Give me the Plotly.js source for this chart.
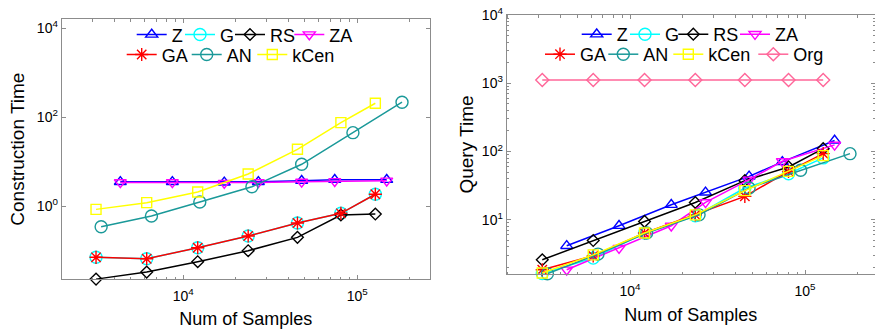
<!DOCTYPE html>
<html>
<head>
<meta charset="utf-8">
<script src="https://cdn.plot.ly/plotly-3.0.1.min.js"></script>
<style>
  html, body { margin: 0; padding: 0; background: #fff; }
  #chart { width: 875px; height: 330px; }
</style>
</head>
<body>
<div id="chart"></div>
<script>
// Sample counts used by the different methods
const samplesStd = [3150, 6160, 12100, 23600, 45300, 80500, 127000];
const samplesZ   = [4345, 8650, 17200, 27000, 47900, 74200, 147600];
const samplesAN  = [3370, 6560, 12440, 24800, 47900, 94400, 180800];

// Construction time
const buildZ    = [3.5, 3.5, 3.4, 3.5, 3.7, 3.9, 3.9];
const buildG    = [0.070, 0.065, 0.115, 0.211, 0.414, 0.685, 1.84];
const buildRS   = [0.0226, 0.0326, 0.0557, 0.0985, 0.197, 0.627, 0.66];
const buildZA   = [3.4, 3.4, 3.3, 3.4, 3.5, 3.6, 3.7];
const buildGA   = [0.070, 0.065, 0.115, 0.211, 0.414, 0.685, 1.84];
const buildAN   = [0.342, 0.595, 1.23, 2.72, 8.69, 44.8, 217];
const buildKCen = [0.84, 1.19, 2.07, 5.26, 18.9, 75.2, 206];

// Query time
const queryZ    = [4.15, 8.17, 16.6, 25.2, 43.2, 70.4, 145];
const queryG    = [1.63, 2.74, 6.4, 11.4, 29.2, 47.3, 80.5];
const queryRS   = [2.59, 4.96, 9.45, 17.9, 37.4, 59.4, 110];
const queryZA   = [1.85, 3.84, 8.17, 18, 38.6, 71.8, 125];
const queryGA   = [1.85, 2.96, 6.4, 11.8, 22, 51, 93];
const queryAN   = [1.62, 3.14, 6.38, 11.8, 29.2, 53, 93];
const queryKCen = [1.66, 3.06, 6.38, 11.8, 26.7, 51.2, 87];
const queryOrg  = [1112, 1112, 1112, 1112, 1112, 1112, 1112];

// Tick labels
const xTickVals = [1e4, 1e5];
const xTickText = ['10<sup>4</sup>', '10<sup>5</sup>'];
const yBuildTickVals = [1, 100, 10000];
const yBuildTickText = ['10<sup>0</sup>', '10<sup>2</sup>', '10<sup>4</sup>'];
const yQueryTickVals = [10, 100, 1000, 10000];
const yQueryTickText = ['10<sup>1</sup>', '10<sup>2</sup>', '10<sup>3</sup>', '10<sup>4</sup>'];

const W = 875, H = 330;
const FONT = 'Liberation Sans, Arial, Helvetica, sans-serif';

const STYLE = {
  Z:    { color: '#0000ff', symbol: 'triangle-up-open',   size: 10.5 },
  G:    { color: '#00ffff', symbol: 'circle-open',        size: 12 },
  RS:   { color: '#000000', symbol: 'diamond-open',       size: 9 },
  ZA:   { color: '#ff00ff', symbol: 'triangle-down-open', size: 10.5 },
  GA:   { color: '#ff0000', symbol: 'asterisk-open',      size: 11 },
  AN:   { color: '#1a9999', symbol: 'circle-open',        size: 12 },
  kCen: { color: '#ffff00', symbol: 'square-open',        size: 10 },
  Org:  { color: '#ff6699', symbol: 'diamond-open',       size: 10 }
};

function series(name, x, y, xa, ya, legend, lw) {
  const s = STYLE[name];
  const t = {
    type: 'scatter', mode: 'lines+markers', name: name,
    x: x, y: y, xaxis: xa, yaxis: ya, legend: legend,
    line: { color: s.color, width: 1.5 },
    marker: { symbol: s.symbol, size: s.size, color: s.color,
              line: { color: s.color, width: 1.4 } },
    cliponaxis: false
  };
  if (lw !== undefined) t.legendwidth = lw;
  return t;
}

const data = [
  series('Z',    samplesZ,   buildZ,    'x', 'y', 'legend', 3.3),
  series('G',    samplesStd, buildG,    'x', 'y', 'legend', 5),
  series('RS',   samplesStd, buildRS,   'x', 'y', 'legend', 14.3),
  series('ZA',   samplesZ,   buildZA,   'x', 'y', 'legend'),
  series('GA',   samplesStd, buildGA,   'x', 'y', 'legend2', 20),
  series('AN',   samplesAN,  buildAN,   'x', 'y', 'legend2', 20.6),
  series('kCen', samplesStd, buildKCen, 'x', 'y', 'legend2'),

  series('Z',    samplesZ,   queryZ,    'x2', 'y2', 'legend3', 3.3),
  series('G',    samplesStd, queryG,    'x2', 'y2', 'legend3', 3.3),
  series('RS',   samplesStd, queryRS,   'x2', 'y2', 'legend3', 16.7),
  series('ZA',   samplesZ,   queryZA,   'x2', 'y2', 'legend3'),
  series('GA',   samplesStd, queryGA,   'x2', 'y2', 'legend4', 18.3),
  series('AN',   samplesAN,  queryAN,   'x2', 'y2', 'legend4', 20),
  series('kCen', samplesStd, queryKCen, 'x2', 'y2', 'legend4', 40),
  series('Org',  samplesStd, queryOrg,  'x2', 'y2', 'legend4')
];

const GRAY = '#8c8c8c';
function axisBase(extra) {
  return Object.assign({
    type: 'log', showgrid: false, zeroline: false,
    linecolor: GRAY, linewidth: 1, mirror: 'ticks',
    ticks: 'inside', ticklen: 4, tickcolor: GRAY, tickwidth: 1,
    tickmode: 'array',
    tickfont: { family: FONT, size: 14, color: '#000' }
  }, extra);
}
const minorTicks = { dtick: 'D1', ticks: 'inside', ticklen: 2.5, tickcolor: GRAY, tickwidth: 1, showgrid: false };

function legendBox(xPx, yPx) {
  return {
    orientation: 'h', x: xPx / W, xanchor: 'left', y: 1 - yPx / H, yanchor: 'top',
    font: { family: FONT, size: 18, color: '#000' },
    bgcolor: 'rgba(0,0,0,0)', borderwidth: 0, itemwidth: 30
  };
}

const layout = {
  width: W, height: H,
  margin: { l: 0, r: 0, t: 0, b: 0 },
  paper_bgcolor: '#fff', plot_bgcolor: '#fff',
  font: { family: FONT, color: '#000' },
  showlegend: true,
  xaxis: axisBase({
    domain: [61.7 / W, 430 / W], range: [3.301, 5.418], anchor: 'y',
    tickvals: xTickVals, ticktext: xTickText, minor: minorTicks, ticklabelstandoff: 4,
    title: { text: 'Num of Samples', font: { family: FONT, size: 18 }, standoff: 9 }
  }),
  yaxis: axisBase({
    domain: [1 - 279.3 / H, 1 - 19 / H], range: [-1.65, 4.21], anchor: 'x',
    tickvals: yBuildTickVals, ticktext: yBuildTickText,
    title: { text: 'Construction Time', font: { family: FONT, size: 19 }, standoff: 6.5 }
  }),
  xaxis2: axisBase({
    domain: [506.7 / W, 1], range: [3.295, 5.40], anchor: 'y2',
    tickvals: xTickVals, ticktext: xTickText, minor: minorTicks, ticklabelstandoff: 4,
    title: { text: 'Num of Samples', font: { family: FONT, size: 18 }, standoff: 10.5 }
  }),
  yaxis2: axisBase({
    domain: [1 - 274 / H, 1 - 15 / H], range: [0.205, 4.0], anchor: 'x2',
    tickvals: yQueryTickVals, ticktext: yQueryTickText, minor: minorTicks,
    title: { text: 'Query Time', font: { family: FONT, size: 19 }, standoff: 3 }
  }),
  legend:  legendBox(131.7, 16.3),
  legend2: legendBox(121.7, 36.3),
  legend3: legendBox(576.7, 16),
  legend4: legendBox(540, 36)
};

Plotly.newPlot('chart', data, layout, { displayModeBar: false, staticPlot: true });
</script>
</body>
</html>
